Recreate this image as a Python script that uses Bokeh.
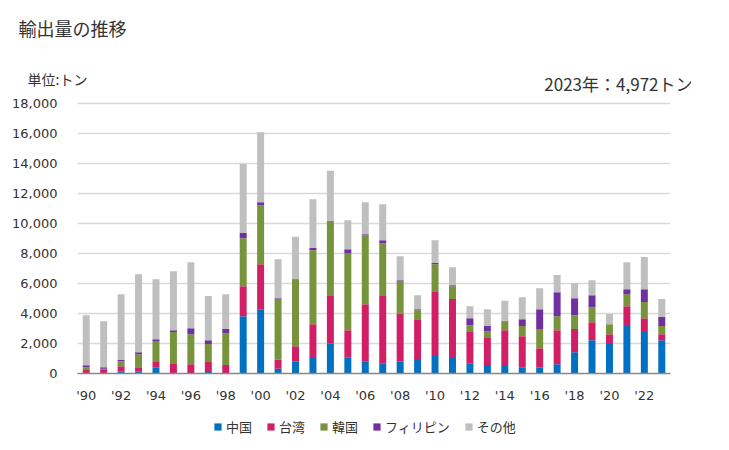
from bokeh.plotting import figure
from bokeh.layouts import column
from bokeh.models import Range1d, FixedTicker, Legend, LegendItem, Label, ColumnDataSource, NumeralTickFormatter
from bokeh.embed import file_html
from bokeh.resources import INLINE

years = list(range(1990, 2024))
series_names = ["中国", "台湾", "韓国", "フィリピン", "その他"]
china = [0, 0, 110, 110, 380, 0, 0, 160, 0, 3820, 4290, 310, 780, 1040, 2020, 1090, 820, 690, 780, 960,
         1160, 1040, 690, 560, 560, 420, 380, 620, 1420, 2220, 1960, 3160, 2760, 2220]
taiwan = [240, 240, 380, 310, 380, 690, 620, 600, 560, 2000, 3000, 600, 1040, 2250, 3140, 1800, 3800, 4530, 3200, 2660,
          4330, 3920, 2130, 1800, 2330, 2070, 1310, 2270, 1540, 1200, 660, 1330, 930, 400]
korea = [180, 70, 330, 870, 1400, 2070, 2000, 1200, 2130, 3200, 3930, 4050, 4470, 4930, 5000, 5110, 4600, 3470, 2180, 600,
         1800, 860, 400, 460, 600, 670, 1270, 930, 930, 1000, 670, 800, 1070, 540]
philippines = [130, 110, 90, 130, 130, 130, 400, 260, 270, 340, 200, 60, 20, 140, 30, 290, 70, 200, 60, 70,
               70, 70, 470, 340, 30, 460, 1330, 1600, 1130, 800, 0, 330, 860, 600]
others = [3330, 3070, 4380, 5200, 4000, 3930, 4400, 2940, 2330, 4600, 4670, 2600, 2800, 3260, 3330, 1930, 2130, 2400, 1600, 930,
          1530, 1200, 800, 1130, 1330, 1470, 1400, 1140, 1000, 1000, 670, 1800, 2140, 1212]
tick_years = list(range(1990, 2023, 2))
tick_labels = ["'%02d" % (y % 100) for y in tick_years]
colors = ["#0070C0", "#D01F64", "#77933C", "#7030A0", "#BFBFBF"]
title_text = "輸出量の推移"
unit_text = "単位:トン"
total_text = "2023年：4,972トン"

JP = "Noto Sans CJK JP"
TXT = "#333333"
keys = ["s0", "s1", "s2", "s3", "s4"]
source = ColumnDataSource(dict(x=years, s0=china, s1=taiwan, s2=korea, s3=philippines, s4=others))

# ---- header (title, unit, total) ----
head = figure(width=729, height=96, output_backend="svg", toolbar_location=None,
              x_range=Range1d(0, 729), y_range=Range1d(96, 0),
              x_axis_location=None, y_axis_location=None, frame_align=False,
              min_border_left=0, min_border_right=0, min_border_top=0, min_border_bottom=0)
head.grid.visible = False
head.outline_line_color = None
head.add_layout(Label(x=18, y=27, text=title_text, text_font=JP, text_font_size="18px",
                      text_color=TXT, text_baseline="middle", text_align="left"))
head.add_layout(Label(x=27, y=78, text=unit_text, text_font=JP, text_font_size="14px",
                      text_color=TXT, text_baseline="middle", text_align="left"))
head.add_layout(Label(x=692, y=83, text=total_text, text_font=JP, text_font_size="17px",
                      text_color=TXT, text_baseline="middle", text_align="right"))

# ---- main chart ----
p = figure(width=729, height=317, output_backend="svg", toolbar_location=None,
           x_range=Range1d(1989.5, 2023.5), y_range=Range1d(0, 18466.7), frame_align=False,
           min_border_left=77, min_border_right=59, min_border_top=0, min_border_bottom=40)
p.outline_line_color = None

renderers = p.vbar_stack(keys, x="x", width=0.4, color=colors, source=source, line_color=None)

p.xaxis.ticker = FixedTicker(ticks=tick_years)
p.xaxis.major_label_overrides = {y: l for y, l in zip(tick_years, tick_labels)}
p.xaxis.major_tick_line_color = None
p.xaxis.minor_tick_line_color = None
p.xaxis.axis_line_color = "#888888"
p.xaxis.axis_line_width = 1.5
p.xaxis.major_label_text_font = "DejaVu Sans"
p.xaxis.major_label_text_font_size = "13px"
p.xaxis.major_label_text_color = TXT
p.xaxis.major_label_standoff = 8

p.yaxis.ticker = FixedTicker(ticks=list(range(0, 18001, 2000)))
p.yaxis.formatter = NumeralTickFormatter(format="0,0")
p.yaxis.axis_line_color = None
p.yaxis.major_tick_line_color = None
p.yaxis.minor_tick_line_color = None
p.yaxis.major_label_text_font = "DejaVu Sans"
p.yaxis.major_label_text_font_size = "13px"
p.yaxis.major_label_text_color = TXT
p.yaxis.major_label_standoff = 14

p.xgrid.grid_line_color = None
p.ygrid.grid_line_color = "#D9D9D9"
p.ygrid.grid_line_width = 1.5

# ---- legend strip ----
leg = figure(width=729, height=37, output_backend="svg", toolbar_location=None,
             x_range=Range1d(1989.5, 2023.5), y_range=Range1d(1e6, 1e6 + 1),
             x_axis_location=None, y_axis_location=None, frame_align=False,
             min_border_left=0, min_border_right=0, min_border_top=0, min_border_bottom=0)
leg.grid.visible = False
leg.outline_line_color = None
leg_renderers = leg.vbar_stack(keys, x="x", width=0.4, color=colors, source=source, line_color=None)
items = [LegendItem(label=n, renderers=[r]) for n, r in zip(series_names, leg_renderers)]
legend = Legend(items=items, orientation="horizontal", location=(213, 14),
                glyph_width=9, glyph_height=9, label_standoff=4, spacing=14,
                padding=0, margin=0, border_line_color=None, background_fill_alpha=0,
                label_text_font=JP, label_text_font_size="13px", label_text_color=TXT)
leg.add_layout(legend)

layout = column(head, p, leg, spacing=0)
open("out.html", "w").write(file_html(layout, INLINE))
